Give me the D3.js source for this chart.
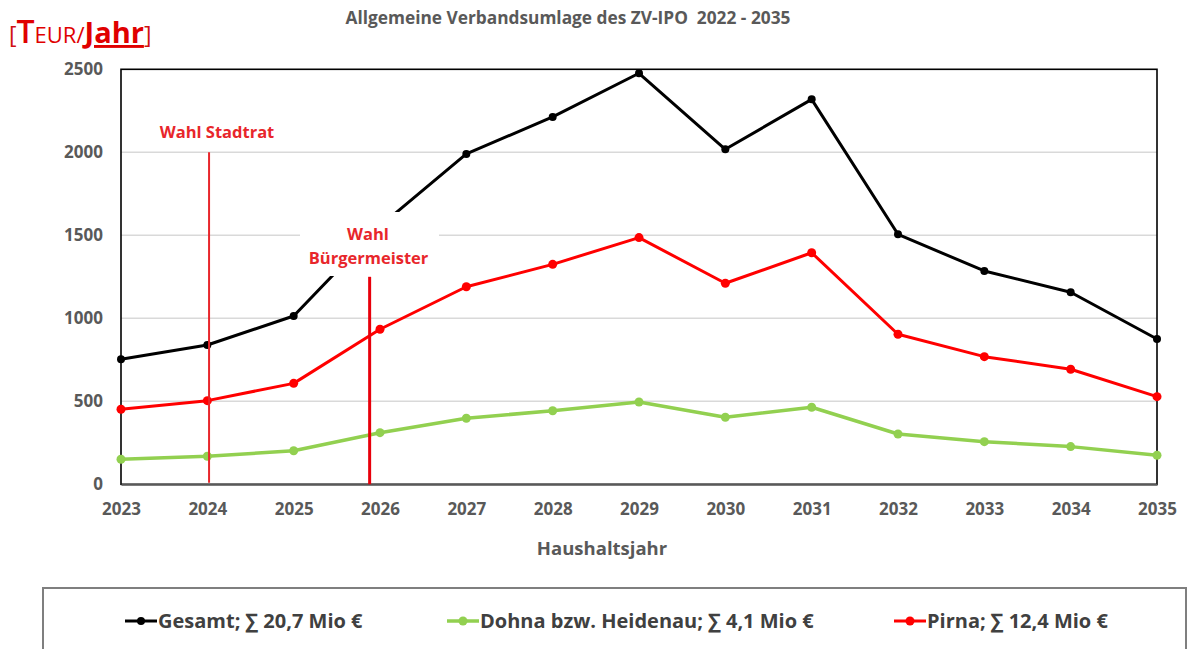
<!DOCTYPE html>
<html><head><meta charset="utf-8">
<script src="https://cdn.jsdelivr.net/npm/d3@7/dist/d3.min.js"></script>
<style>
html,body{margin:0;padding:0;background:#fff;}
svg{display:block;font-family:"Open Sans","Noto Sans",sans-serif;}
</style></head><body>
<svg id="c" width="1189" height="649"></svg>
<script>
const years = [2023,2024,2025,2026,2027,2028,2029,2030,2031,2032,2033,2034,2035];
const gesamt = [753,839,1014,1555,1990,2213,2476,2018,2319,1506,1285,1157,875];
const pirna  = [452,504,608,934,1190,1325,1486,1211,1395,904,769,693,528];
const dohna  = [151,169,202,311,398,443,496,404,464,303,257,227,175];
const yTicks = [0,500,1000,1500,2000,2500];
const seriesNames = ["Gesamt; \u2211 20,7 Mio \u20AC","Dohna bzw. Heidenau; \u2211 4,1 Mio \u20AC","Pirna; \u2211 12,4 Mio \u20AC"];
const electionYears = [2024.02, 2025.88];
const electionLabels = [["Wahl Stadtrat"],["Wahl","B\u00FCrgermeister"]];
const electionTop = [2000, 1250];
const titleText = "Allgemeine Verbandsumlage des ZV-IPO\u00A0 2022 - 2035";

const svg = d3.select("#c");
const x = d3.scaleLinear().domain([2023,2035]).range([121,1157]);
const y = d3.scaleLinear().domain([0,2500]).range([484.3,69.3]);

// gridlines
svg.append("g").selectAll("line").data(yTicks.filter(v=>v>0 && v<2500)).join("line")
  .attr("x1",x(2023)).attr("x2",x(2035)).attr("y1",d=>y(d)).attr("y2",d=>y(d))
  .attr("stroke","#d9d9d9").attr("stroke-width",1.5);

// frame
svg.append("rect").attr("x",x(2023)).attr("y",y(2500)).attr("width",x(2035)-x(2023)).attr("height",y(0)-y(2500))
  .attr("fill","none").attr("stroke","#000").attr("stroke-width",1.6);

// axes
const xAxis = svg.append("g").attr("transform",`translate(0,${y(0)})`)
  .call(d3.axisBottom(x).tickValues(years).tickFormat(d3.format("d")).tickSize(0).tickPadding(19));
xAxis.select(".domain").attr("stroke","#595959").attr("stroke-width",2);
xAxis.selectAll("text").attr("font-size",17).attr("font-weight",700).attr("fill","#595959")
  .attr("font-family","'Open Sans',sans-serif");

const yAxis = svg.append("g").attr("transform",`translate(${x(2023)},0)`)
  .call(d3.axisLeft(y).tickValues(yTicks).tickFormat(d3.format("d")).tickSize(0).tickPadding(18));
yAxis.select(".domain").remove();
yAxis.selectAll("text").attr("font-size",17).attr("font-weight",700).attr("fill","#595959")
  .attr("font-family","'Open Sans',sans-serif");

// series
const series = [
  {name:seriesNames[0], values:gesamt, color:"#000000", w:3, r:4},
  {name:seriesNames[1], values:dohna, color:"#92d050", w:3.5, r:4.5},
  {name:seriesNames[2], values:pirna, color:"#ff0000", w:3, r:4.5}
];
const line = d3.line().x((d,i)=>x(years[i])).y(d=>y(d));
const drawOrder = [1,2,0];
drawOrder.forEach(k=>{
  const s = series[k];
  svg.append("path").datum(s.values).attr("d",line).attr("fill","none")
    .attr("stroke",s.color).attr("stroke-width",s.w).attr("stroke-linejoin","round");
  svg.append("g").selectAll("circle").data(s.values).join("circle")
    .attr("cx",(d,i)=>x(years[i])).attr("cy",d=>y(d)).attr("r",s.r).attr("fill",s.color);
});

// election lines
svg.append("line").attr("x1",x(electionYears[0])).attr("x2",x(electionYears[0]))
  .attr("y1",y(electionTop[0])).attr("y2",y(10)).attr("stroke","#e8262b").attr("stroke-width",2);
svg.append("text").attr("x",217).attr("y",138).attr("text-anchor","middle")
  .attr("font-size",16.5).attr("font-weight",700).attr("fill","#e8262b").text(electionLabels[0][0]);
svg.append("rect").attr("x",300).attr("y",212).attr("width",139).attr("height",64).attr("fill","#fff");
svg.append("line").attr("x1",x(electionYears[1])).attr("x2",x(electionYears[1]))
  .attr("y1",y(electionTop[1])).attr("y2",y(0)).attr("stroke","#e8000b").attr("stroke-width",3);
svg.append("text").attr("x",368).attr("y",240).attr("text-anchor","middle")
  .attr("font-size",16.5).attr("font-weight",700).attr("fill","#e8262b").text(electionLabels[1][0]);
svg.append("text").attr("x",368.5).attr("y",264).attr("text-anchor","middle")
  .attr("font-size",16.5).attr("font-weight",700).attr("fill","#e8262b").text(electionLabels[1][1]);

// title
svg.append("text").attr("x",568).attr("y",24).attr("text-anchor","middle").style("white-space","pre")
  .attr("font-size",17.3).attr("font-weight",700).attr("fill","#595959").text(titleText);

// unit label
const u = svg.append("text").attr("x",9).attr("y",43).attr("fill","#e00000");
u.append("tspan").attr("font-size",23).attr("fill","#d01010").text("[");
u.append("tspan").attr("font-size",32).attr("font-weight",600).text("T");
u.append("tspan").attr("font-size",22).attr("font-weight",500).text("EUR/");
u.append("tspan").attr("font-size",29).attr("font-weight",700).attr("text-decoration","underline").text("Jahr");
u.append("tspan").attr("font-size",23).attr("fill","#d01010").text("]");

// x-axis title
svg.append("text").attr("x",602).attr("y",555).attr("text-anchor","middle")
  .attr("font-size",18.5).attr("font-weight",700).attr("fill","#595959").text("Haushaltsjahr");

// legend
svg.append("rect").attr("x",43).attr("y",588).attr("width",1143).attr("height",100)
  .attr("fill","#fff").attr("stroke","#7f7f7f").attr("stroke-width",2);
const legX = [125, 447, 894];
series.forEach((s,i)=>{
  const g = svg.append("g").attr("transform",`translate(${legX[i]},621)`);
  g.append("line").attr("x1",0).attr("x2",32).attr("stroke",s.color).attr("stroke-width",s.w);
  g.append("circle").attr("cx",16).attr("r",s.r).attr("fill",s.color);
  g.append("text").attr("x",33).attr("y",7).attr("font-size",20).attr("font-weight",700)
    .attr("fill","#404040").text(s.name);
});
</script></body></html>
